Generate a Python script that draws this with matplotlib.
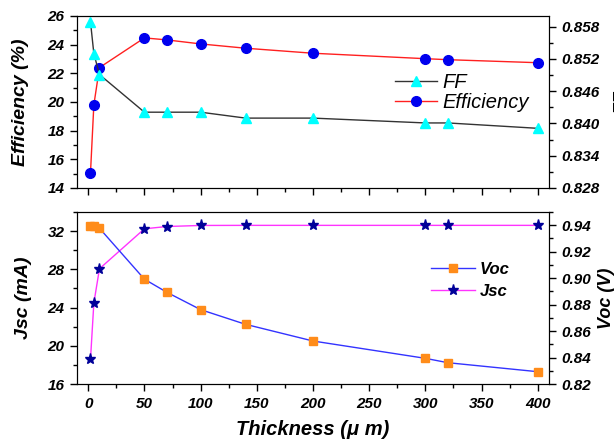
import matplotlib
matplotlib.use("Agg")
import matplotlib.pyplot as plt
from matplotlib.ticker import MultipleLocator

plt.rcParams['font.family'] = ['Liberation Sans', 'DejaVu Sans']

thickness = [2, 5, 10, 50, 70, 100, 140, 200, 300, 320, 400]
efficiency = [15.05, 19.8, 22.4, 24.47, 24.33, 24.05, 23.75, 23.4, 23.02, 22.95, 22.74]
ff = [0.8589, 0.8530, 0.8491, 0.8421, 0.8421, 0.8421, 0.8410, 0.8410, 0.8401, 0.8401, 0.8391]
jsc = [18.57, 24.47, 28.06, 32.24, 32.48, 32.59, 32.6, 32.6, 32.6, 32.6, 32.6]
voc = [0.9395, 0.9395, 0.9377, 0.8992, 0.8893, 0.8762, 0.8651, 0.8525, 0.8394, 0.8361, 0.8293]

label_font = dict(fontsize=14, fontweight='bold', fontstyle='italic')


def style_ax(ax):
    ax.tick_params(direction='out', length=5, width=1, which='major', pad=4)
    ax.tick_params(direction='out', length=3, width=1, which='minor')
    for lab in ax.get_xticklabels() + ax.get_yticklabels():
        lab.set_fontsize(11)
        lab.set_fontweight('bold')
        lab.set_fontstyle('italic')


fig = plt.figure(figsize=(6.14, 4.46), dpi=100)
ax1 = fig.add_axes([0.1254, 0.5785, 0.7687, 0.3857])
ax3 = fig.add_axes([0.1254, 0.139, 0.7687, 0.3857])

# top panel
ax2 = ax1.twinx()
l_ff, = ax2.plot(thickness, ff, color='#333333', lw=1, marker='^', ms=7,
                 mfc='#00ffff', mec='#00ffff', label='FF')
l_eff, = ax1.plot(thickness, efficiency, color='#ff2020', lw=1, marker='o', ms=7,
                  mfc='#0000ee', mec='#0000ee', label='Efficiency')
ax1.set_xlim(-10, 410)
ax1.set_ylim(14, 26)
ax1.yaxis.set_major_locator(MultipleLocator(2))
ax1.yaxis.set_minor_locator(MultipleLocator(1))
ax1.xaxis.set_major_locator(MultipleLocator(50))
ax1.xaxis.set_minor_locator(MultipleLocator(25))
ax1.set_xticklabels([])
ax2.set_ylim(0.828, 0.860)
ax2.set_yticks([0.828, 0.834, 0.840, 0.846, 0.852, 0.858])
ax2.yaxis.set_minor_locator(MultipleLocator(0.003))
ax2.set_yticklabels(['0.828', '0.834', '0.840', '0.846', '0.852', '0.858'])
ax1.set_ylabel('Efficiency (%)', labelpad=13, **label_font)
ax2.set_ylabel('FF', labelpad=10, **label_font)
style_ax(ax1)
style_ax(ax2)
ax1.legend([l_ff, l_eff], ['FF', 'Efficiency'], loc='upper left',
           bbox_to_anchor=(0.652, 0.725), frameon=False, handlelength=2.1,
           borderpad=0, labelspacing=0.05, handletextpad=0.25,
           prop=dict(family='Liberation Sans', size=14.5, style='italic'))

# bottom panel
ax4 = ax3.twinx()
l_voc, = ax4.plot(thickness, voc, color='#3333ff', lw=1, marker='s', ms=6,
                  mfc='#ff8c1a', mec='#ff8c1a', label='Voc')
l_jsc, = ax3.plot(thickness, jsc, color='#ff33ff', lw=1, marker='*', ms=8,
                  mfc='#000099', mec='#000099', label='Jsc')
ax3.set_xlim(-10, 410)
ax3.set_ylim(16, 34)
ax3.yaxis.set_major_locator(MultipleLocator(4))
ax3.yaxis.set_minor_locator(MultipleLocator(2))
ax3.xaxis.set_major_locator(MultipleLocator(50))
ax3.xaxis.set_minor_locator(MultipleLocator(25))
ax4.set_ylim(0.82, 0.95)
ax4.set_yticks([0.82, 0.84, 0.86, 0.88, 0.90, 0.92, 0.94])
ax4.set_yticklabels(['0.82', '0.84', '0.86', '0.88', '0.90', '0.92', '0.94'])
ax4.yaxis.set_minor_locator(MultipleLocator(0.01))
ax3.set_ylabel('Jsc (mA)', labelpad=11, **label_font)
ax4.set_ylabel('Voc (V)', rotation=90, labelpad=5, fontsize=13,
               fontweight='bold', fontstyle='italic')
ax3.set_xlabel('Thickness (\u03bc m)', fontsize=14.5, fontweight='bold',
               fontstyle='italic', labelpad=7)
style_ax(ax3)
style_ax(ax4)
ax3.legend([l_voc, l_jsc], ['Voc', 'Jsc'], loc='upper left',
           bbox_to_anchor=(0.733, 0.76), frameon=False, handlelength=2.6,
           borderpad=0, labelspacing=0.45, handletextpad=0.3,
           prop=dict(family='Liberation Sans', size=12, style='italic', weight='bold'))

fig.savefig('out.png', dpi=100)
